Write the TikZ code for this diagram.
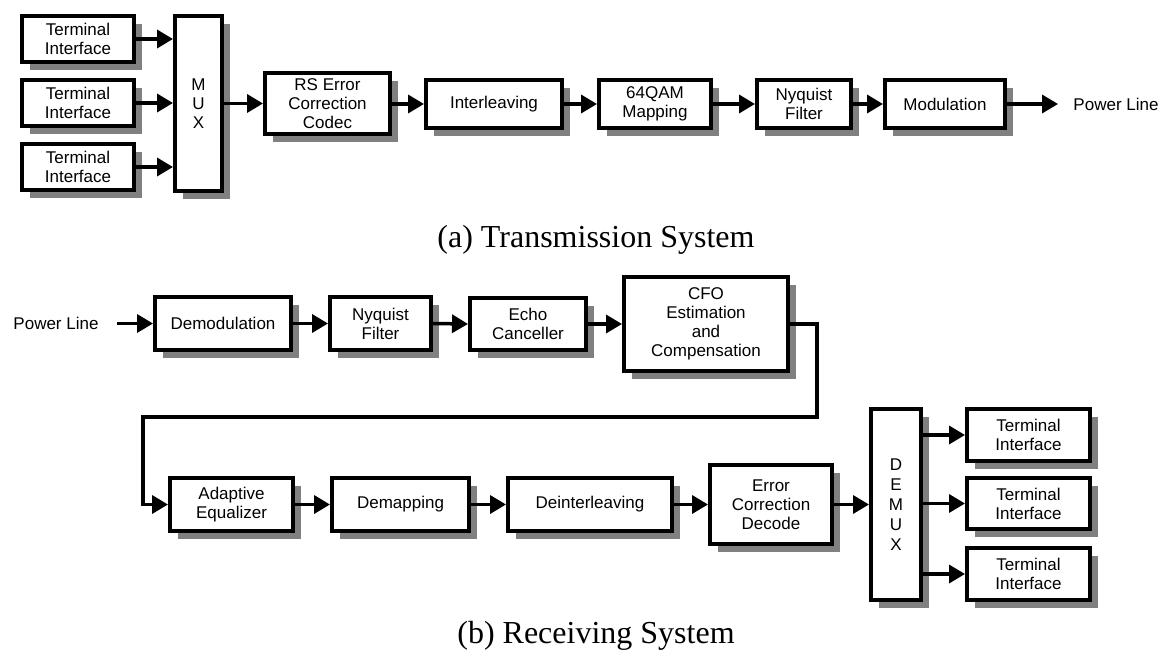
\documentclass[tikz,border=0pt]{standalone}
\usepackage{fontspec}
\setmainfont{Liberation Serif}
\setsansfont{Liberation Sans}
\usetikzlibrary{arrows.meta,shadows}
\begin{document}
\begin{tikzpicture}[x=1pt,y=-1pt,
  blk/.style={draw=black, line width=4pt, fill=white, rectangle, inner sep=0pt,
    align=center, font=\sffamily\fontsize{17}{19}\selectfont,
    drop shadow={shadow xshift=8pt, shadow yshift=-8pt, fill=black!50, opacity=1}},
  lbl/.style={font=\sffamily\fontsize{17}{19}\selectfont, inner sep=0pt},
  captext/.style={font=\rmfamily\fontsize{32}{36}\selectfont, inner sep=0pt},
  arr/.style={line width=3.5pt, -{Triangle[length=16pt, width=18pt]}, shorten >=0pt}
]
\useasboundingbox (0,0) rectangle (1167,660);
% ---- (a) Transmission ----
\node[blk, minimum width=112pt, minimum height=46pt] (ti1) at (78,39) {Terminal\\Interface};
\node[blk, minimum width=112pt, minimum height=46pt] (ti2) at (78,103) {Terminal\\Interface};
\node[blk, minimum width=112pt, minimum height=46pt] (ti3) at (78,167) {Terminal\\Interface};
\node[blk, minimum width=47pt, minimum height=175pt] (mux) at (198.5,103.5) {M\\U\\X};
\node[blk, minimum width=125pt, minimum height=61pt] (rs) at (327.5,103.5) {RS Error\\Correction\\Codec};
\node[blk, minimum width=136pt, minimum height=48pt] (il) at (494,104) {Interleaving};
\node[blk, minimum width=112pt, minimum height=48pt] (qam) at (655,104) {64QAM\\Mapping};
\node[blk, minimum width=94pt, minimum height=48pt] (nyq) at (804,104) {Nyquist\\Filter};
\node[blk, minimum width=120pt, minimum height=48pt] (mod) at (945,104) {Modulation};
\node[lbl] (plo) at (1116,104) {Power Line};
\coordinate (ploend) at (1058,104);
\draw[arr] (ti1.east) -- (ti1.east -| mux.west);
\draw[arr] (ti2.east) -- (ti2.east -| mux.west);
\draw[arr] (ti3.east) -- (ti3.east -| mux.west);
\draw[arr] (mux.east |- rs.west) -- (rs.west);
\draw[arr] (rs.east |- il.west) -- (il.west);
\draw[arr] (il.east) -- (qam.west);
\draw[arr] (qam.east) -- (nyq.west);
\draw[arr] (nyq.east) -- (mod.west);
\draw[arr] (mod.east) -- (ploend);
\node[captext] (capa) at (596,240) {(a) Transmission System};
% ---- (b) Receiving ----
\node[lbl] (pli) at (56,323) {Power Line};
\coordinate (plistart) at (117,323.5);
\node[blk, minimum width=136pt, minimum height=53pt] (dem) at (223,323.5) {Demodulation};
\node[blk, minimum width=101pt, minimum height=53pt] (nyq2) at (380.5,323.5) {Nyquist\\Filter};
\node[blk, minimum width=116pt, minimum height=52pt] (echo) at (528,324) {Echo\\Canceller};
\node[blk, minimum width=164pt, minimum height=94pt] (cfo) at (706,324) {CFO\\Estimation\\and\\Compensation};
\node[blk, minimum width=123pt, minimum height=53pt] (ae) at (231.5,504.5) {Adaptive\\Equalizer};
\node[blk, minimum width=137pt, minimum height=53pt] (dmap) at (400.5,504.5) {Demapping};
\node[blk, minimum width=164pt, minimum height=53pt] (dil) at (590,504.5) {Deinterleaving};
\node[blk, minimum width=122pt, minimum height=79pt] (ecd) at (771,504.5) {Error\\Correction\\Decode};
\node[blk, minimum width=50pt, minimum height=191pt, font=\sffamily\fontsize{17}{20}\selectfont] (demux) at (896,504.5) {D\\E\\M\\U\\X};
\node[blk, minimum width=123pt, minimum height=52pt] (to1) at (1028.5,435) {Terminal\\Interface};
\node[blk, minimum width=123pt, minimum height=51pt] (to2) at (1028.5,503.5) {Terminal\\Interface};
\node[blk, minimum width=123pt, minimum height=52pt] (to3) at (1028.5,574) {Terminal\\Interface};
\coordinate (r1) at (817,324);
\coordinate (r2) at (817,417);
\coordinate (r3) at (143,417);
\coordinate (r4) at (143,504.5);
\draw[arr] (plistart) -- (dem.west);
\draw[arr] (dem.east) -- (nyq2.west);
\draw[arr] (nyq2.east) -- (echo.west);
\draw[arr] (echo.east) -- (echo.east -| cfo.west);
\draw[arr] (cfo.east |- r1) -- (r1) -- (r2) -- (r3) -- (r4) -- (ae.west);
\draw[arr] (ae.east) -- (dmap.west);
\draw[arr] (dmap.east) -- (dil.west);
\draw[arr] (dil.east) -- (ecd.west);
\draw[arr] (ecd.east) -- (ecd.east -| demux.west);
\draw[arr] (demux.east |- to1.west) -- (to1.west);
\draw[arr] (demux.east |- to2.west) -- (to2.west);
\draw[arr] (demux.east |- to3.west) -- (to3.west);
\node[captext] (capb) at (596,636) {(b) Receiving System};
\end{tikzpicture}
\end{document}
